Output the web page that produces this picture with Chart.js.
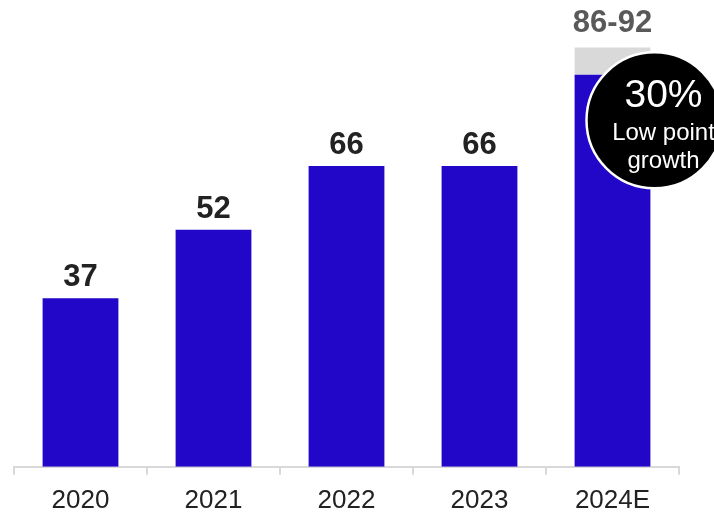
<!DOCTYPE html>
<html>
<head>
<meta charset="utf-8">
<script src="https://cdn.jsdelivr.net/npm/chart.js@4"></script>
<style>
  html, body { margin: 0; padding: 0; background: #fff; }
  #wrap { width: 714px; height: 516px; position: relative; }
</style>
</head>
<body>
<div id="wrap"><canvas id="chart" width="714" height="516"></canvas></div>
<script>
// data
const years = ['2020', '2021', '2022', '2023', '2024E'];
const baseValues = [37, 52, 66, 66, 86];
const rangeValues = [0, 0, 0, 0, 6];
const valueLabels = ['37', '52', '66', '66', '86-92'];
const calloutValue = '30%';
const calloutText = ['Low point', 'growth'];

const blue = '#2307C9';
const grey = '#D9D9D9';

// labels above the bars
const barLabels = {
  id: 'barLabels',
  afterDatasetsDraw(chart) {
    const ctx = chart.ctx;
    const meta = chart.getDatasetMeta(1);
    ctx.save();
    ctx.textAlign = 'center';
    ctx.textBaseline = 'alphabetic';
    ctx.font = 'bold 31px "Liberation Sans", Arial, sans-serif';
    meta.data.forEach((bar, i) => {
      const isRange = rangeValues[i] > 0;
      ctx.fillStyle = isRange ? '#595959' : '#222222';
      ctx.fillText(valueLabels[i], bar.x, bar.y - (isRange ? 15 : 12));
    });
    ctx.restore();
  }
};

// black circle callout next to the 2024E bar
const callout = {
  id: 'callout',
  afterDraw(chart) {
    const ctx = chart.ctx;
    const xs = chart.scales.x, ys = chart.scales.y;
    const cx = xs.getPixelForValue(4) + 42;
    const cy = ys.getPixelForValue(76);
    ctx.save();
    ctx.beginPath();
    ctx.arc(cx, cy, 68, 0, Math.PI * 2);
    ctx.fillStyle = '#000';
    ctx.fill();
    ctx.lineWidth = 2.5;
    ctx.strokeStyle = '#fff';
    ctx.stroke();
    ctx.fillStyle = '#fff';
    ctx.textAlign = 'center';
    ctx.textBaseline = 'middle';
    ctx.font = '39px "Liberation Sans", Arial, sans-serif';
    ctx.fillText(calloutValue, cx + 9, cy - 24);
    ctx.font = '24px "Liberation Sans", Arial, sans-serif';
    ctx.fillText(calloutText[0], cx + 9, cy + 13);
    ctx.fillText(calloutText[1], cx + 9, cy + 41);
    ctx.restore();
  }
};

const ctx = document.getElementById('chart').getContext('2d');
new Chart(ctx, {
  type: 'bar',
  data: {
    labels: years,
    datasets: [
      { data: baseValues, backgroundColor: blue, stack: 's' },
      { data: rangeValues, backgroundColor: grey, stack: 's' }
    ]
  },
  options: {
    responsive: false,
    animation: false,
    events: [],
    layout: { padding: { left: 14, right: 35, top: 0, bottom: -10 } },
    datasets: { bar: { categoryPercentage: 0.57, barPercentage: 1.0 } },
    plugins: {
      legend: { display: false },
      tooltip: { enabled: false }
    },
    scales: {
      x: {
        stacked: true,
        grid: {
          display: true,
          drawOnChartArea: false,
          offset: true,
          tickLength: 8,
          color: grey,
          lineWidth: 2
        },
        border: { display: true, color: grey, width: 2 },
        ticks: {
          color: '#222',
          padding: 10,
          font: { family: '"Liberation Sans", Arial, sans-serif', size: 26 }
        }
      },
      y: {
        stacked: true,
        display: false,
        min: 0,
        max: 102.4
      }
    }
  },
  plugins: [barLabels, callout]
});
</script>
</body>
</html>
